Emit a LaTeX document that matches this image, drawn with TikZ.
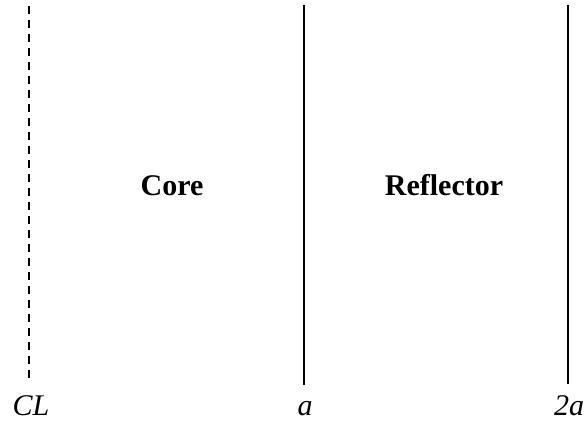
\documentclass[tikz,border=0pt]{standalone}
\usepackage{fontspec}
\setmainfont{Liberation Serif}
\usetikzlibrary{positioning,calc}
\tikzset{
  region/.style={font=\fontsize{30}{36}\selectfont\bfseries, anchor=base},
  mark label/.style={font=\fontsize{30}{36}\selectfont\itshape, anchor=base},
  boundary/.style={line width=1.8pt, black},
  centreline/.style={line width=1.8pt, black, dash pattern=on 8pt off 6pt},
}

\begin{document}
\begin{tikzpicture}[x=1pt, y=-1pt]
\useasboundingbox (0,0) rectangle (588,421);

% Positions along the axis
\node[mark label] (cl) at (31,415) {CL};
\node[mark label] (a) at (305,415) {a};
\node[mark label] (twoa) at (569,415) {2a};

% Boundaries
\coordinate (cltop) at (29,6);
\coordinate (clbot) at (29,378);
\coordinate (atop) at (304,5);
\coordinate (abot) at (304,385);
\coordinate (twoatop) at (568,5);
\coordinate (twoabot) at (568,384);
\draw[centreline] (cltop) -- (clbot);
\draw[boundary] (atop) -- (abot);
\draw[boundary] (twoatop) -- (twoabot);

% Regions
\node[region] (core) at (172,195) {Core};
\node[region] (refl) at (444,195) {Reflector};

\end{tikzpicture}
\end{document}
